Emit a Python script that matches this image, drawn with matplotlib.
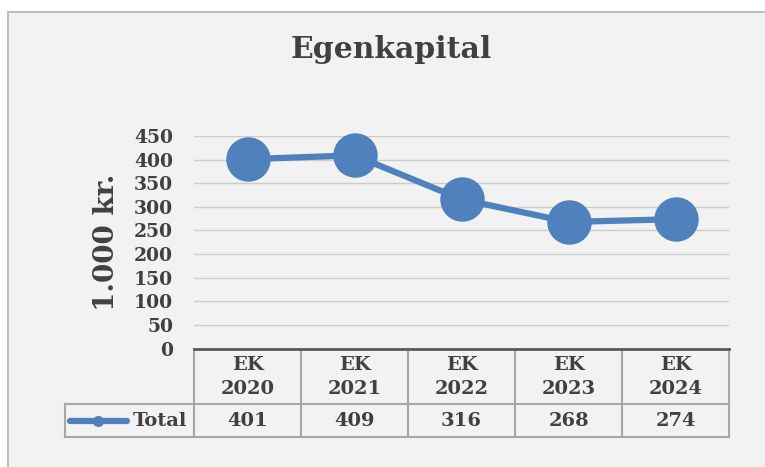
import matplotlib.pyplot as plt
from matplotlib.patches import Rectangle
from matplotlib.lines import Line2D
from matplotlib.transforms import blended_transform_factory

# data
years = ['2020', '2021', '2022', '2023', '2024']
values = [401, 409, 316, 268, 274]
series_name = 'Total'
title = 'Egenkapital'
ylabel = '1.000 kr.'
yticks = list(range(0, 451, 50))

W, H = 765, 467
blue = '#4f81bd'
txt = '#404040'
grid_c = '#cccccc'
tbl_c = '#a6a6a6'
serif = 'DejaVu Serif'


def fx(px):
    return px / W


def fy(py):
    return (H - py) / H


fig = plt.figure(figsize=(W / 100, H / 100), dpi=100)
fig.patch.set_facecolor('white')

# chart frame
fig.patches.append(Rectangle((fx(8), -0.1), 1.2, fy(12) + 0.1, transform=fig.transFigure,
                             facecolor='#f2f2f2', edgecolor='#bfbfbf', lw=1.5, zorder=-5))

ax = fig.add_axes([fx(194), fy(348.6), fx(729) - fx(194), fy(136) - fy(348.6)])
ax.set_zorder(2)
ax.set_facecolor('none')
x = list(range(len(years)))
ax.plot(x, values, color=blue, lw=4.5, marker='o', ms=32, mew=0, clip_on=False, zorder=3)
ax.set_xlim(-0.5, len(years) - 0.5)
ax.set_ylim(0, 450)
ax.set_yticks(yticks)
ax.set_xticks([])
ax.yaxis.grid(True, color=grid_c, lw=1)
ax.set_axisbelow(True)
for s in ['top', 'right', 'left']:
    ax.spines[s].set_visible(False)
ax.spines['bottom'].set_color('#595959')
ax.spines['bottom'].set_linewidth(2)
ax.tick_params(axis='y', length=0, pad=15, labelsize=13.5, labelcolor=txt)
for lab in ax.get_yticklabels():
    lab.set_fontfamily(serif)
    lab.set_fontweight('bold')

fig.text(fx(107), fy(242), ylabel, rotation=90, ha='center', va='center',
         fontsize=20, fontweight='bold', family=serif, color=txt)
fig.text(fx(391), fy(50), title, ha='center', va='center',
         fontsize=21.5, fontweight='bold', family=serif, color=txt)

# data table
tr = blended_transform_factory(ax.transData, fig.transFigure)
y_top, y_mid, y_bot = fy(349), fy(404), fy(437)
for i in range(len(years) + 1):
    fig.add_artist(Line2D([i - 0.5, i - 0.5], [y_top, y_bot], transform=tr, color=tbl_c, lw=1.5))
for yy in [y_mid, y_bot]:
    fig.add_artist(Line2D([fx(65), fx(729)], [yy, yy], transform=fig.transFigure, color=tbl_c, lw=1.5))
fig.add_artist(Line2D([fx(65), fx(65)], [y_mid, y_bot], transform=fig.transFigure, color=tbl_c, lw=1.5))

for i, (yr, v) in enumerate(zip(years, values)):
    fig.text(i, fy(377), 'EK\n' + yr, transform=tr, ha='center', va='center', linespacing=1.45,
             fontsize=14, fontweight='bold', family=serif, color=txt)
    fig.text(i, fy(421), str(v), transform=tr, ha='center', va='center',
             fontsize=14, fontweight='bold', family=serif, color=txt)

# legend key
fig.add_artist(Line2D([fx(70), fx(127)], [fy(421), fy(421)], transform=fig.transFigure,
                      color=blue, lw=4.5, solid_capstyle='round'))
fig.add_artist(Line2D([fx(98.5)], [fy(421)], transform=fig.transFigure,
                      color=blue, marker='o', ms=7, lw=0))
fig.text(fx(187), fy(421), series_name, ha='right', va='center',
         fontsize=14, fontweight='bold', family=serif, color=txt)

fig.savefig('out.png', dpi=100)
